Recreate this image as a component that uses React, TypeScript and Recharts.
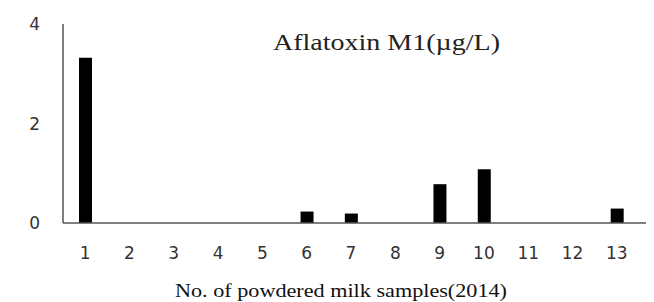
import React from "react";
import { BarChart, Bar, XAxis, YAxis } from "recharts";

const samples = ["1", "2", "3", "4", "5", "6", "7", "8", "9", "10", "11", "12", "13"];
const aflatoxin = [3.32, 0, 0, 0, 0, 0.23, 0.19, 0, 0.78, 1.08, 0, 0, 0.29];
const yTicks = [0, 2, 4];

const data = samples.map((s, i) => ({ sample: s, value: aflatoxin[i] }));

const tickStyle = { fontFamily: "DejaVu Sans", fontSize: 17, fill: "#333" };

export default function App() {
  return (
    <div style={{ position: "relative", width: 646, height: 294 }}>
      <BarChart
        width={646}
        height={294}
        data={data}
        margin={{ top: 16, right: 0, left: 0, bottom: 49 }}
      >
        <XAxis
          dataKey="sample"
          height={30}
          tickLine={false}
          axisLine={{ stroke: "#555", strokeWidth: 1.5 }}
          tickSize={0}
          tickMargin={24}
          padding={{ left: 0, right: 15 }}
          interval={0}
          tick={tickStyle}
        />
        <YAxis
          width={55}
          domain={[0, 4]}
          ticks={yTicks}
          tickLine={false}
          axisLine={{ stroke: "#555", strokeWidth: 1.5 }}
          tickSize={0}
          tickMargin={23}
          tick={tickStyle}
        />
        <Bar dataKey="value" fill="#000" barSize={13} isAnimationActive={false} />
      </BarChart>
      <svg
        width={646}
        height={294}
        style={{ position: "absolute", left: 0, top: 0, pointerEvents: "none" }}
      >
        <text
          x={265}
          y={42}
          fontFamily="Liberation Serif"
          fontSize={23}
          fill="#222"
          textLength={227}
          lengthAdjust="spacingAndGlyphs"
        >
          Aflatoxin M1(µg/L)
        </text>
        <text
          x={167}
          y={289}
          fontFamily="Liberation Serif"
          fontSize={18}
          fill="#111"
          textLength={332}
          lengthAdjust="spacingAndGlyphs"
        >
          No. of powdered milk samples(2014)
        </text>
      </svg>
    </div>
  );
}
